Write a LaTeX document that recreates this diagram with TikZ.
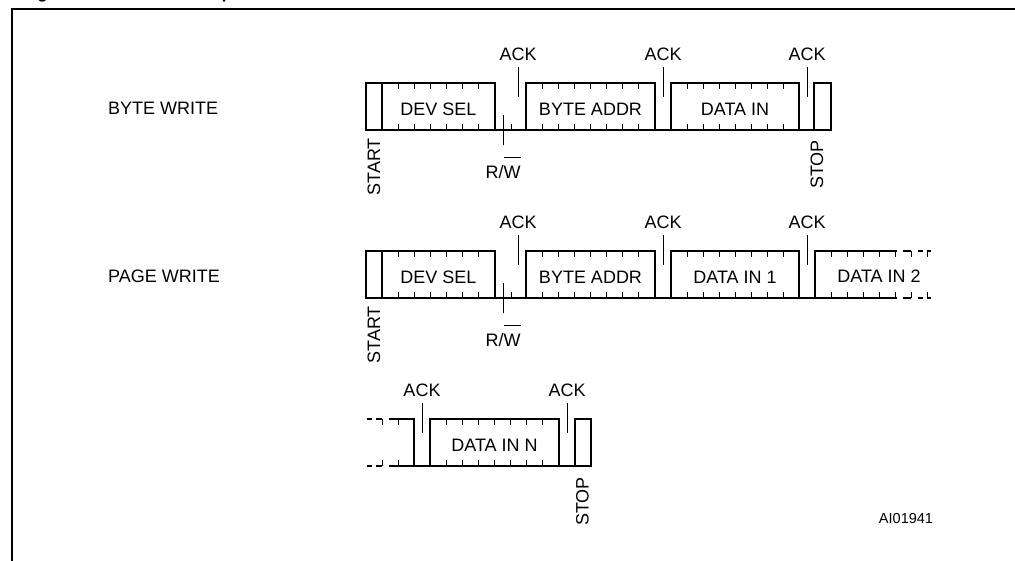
\documentclass[tikz,border=0pt]{standalone}
\usepackage{fontspec}
\setmainfont{Liberation Sans}

\newcommand{\sigfont}{\fontsize{18}{21}\selectfont}
\newcommand{\wbar}{\smash{\rlap{\rule[20.5pt]{17pt}{1pt}}}}
% bit boundaries inside a field
\newcommand{\bitmarks}[2]{%
  \foreach \k in {1,...,#2}{%
    \draw[bittick] ([xshift=\k*16.1pt]#1.north west) -- ++(0,6);
    \draw[bittick] ([xshift=\k*16.1pt]#1.south west) -- ++(0,-6);
  }}

\begin{document}
\begin{tikzpicture}[x=1pt, y=-1pt,
  every node/.style={font=\sigfont, inner sep=0pt},
  field/.style={draw, line width=1.3pt, outer sep=0pt, minimum height=47pt,
                text height=17pt, text depth=0pt, anchor=north west},
  wire/.style={line width=1.3pt},
  bittick/.style={line width=1pt},
  flag/.style={line width=1pt},
  ack/.style={anchor=base},
  vlabel/.style={rotate=90, anchor=east},
]
  \useasboundingbox (0,0) rectangle (1015,560);
  \clip (0,0) rectangle (1015,560);
  \fill[white] (0,0) rectangle (1015,560);

  \node[anchor=base west, font=\bfseries\fontsize{17}{20}\selectfont] (title)
    at (22,-1.5) {Figure 7. Write Mode Sequences in a Non Write-Protected Area};
  \draw[line width=2pt] (1040,9) -- (12,9) -- (12,580);

  % byte write
  \begin{scope}[shift={(0,83)}]
    \node[anchor=west] (bytewr) at (108,25.5) {BYTE WRITE};
    \node[field, minimum width=16pt]  (sta1) at (366,0) {};
    \node[field, minimum width=113pt] (dev1) at (382,0) {DEV SEL};
    \node[field, minimum width=129pt] (adr1) at (526,0) {BYTE ADDR};
    \node[field, minimum width=128pt] (dat1) at (671,0) {DATA IN};
    \node[field, minimum width=17pt]  (sto1) at (814,0) {};
    \draw[wire] (sta1.south west) -- (sto1.south east);
    \bitmarks{dev1}{6}
    \bitmarks{adr1}{7}
    \bitmarks{dat1}{7}
    \draw[bittick] ([xshift=16.1pt]dev1.south east) -- ++(0,-6);
    \node[ack] (ack1a) at (518,-23) {ACK};
    \node[ack] (ack1b) at (663,-23) {ACK};
    \node[ack] (ack1c) at (807,-23) {ACK};
    \foreach \a in {ack1a,ack1b,ack1c}
      \draw[flag] ([yshift=-7pt]\a.base) -- ++(0,30);
    \node[ack] (rw1) at (503,95) {R/\wbar W};
    \draw[flag] ([yshift=33pt]rw1.base) -- ++(0,-30);
    \node[vlabel] (stl1) at (374,55) {START};
    \node[vlabel] (spl1) at (817,57) {STOP};
  \end{scope}

  % page write
  \begin{scope}[shift={(0,251)}]
    \node[anchor=west] (pagewr) at (108,25.5) {PAGE WRITE};
    \node[field, minimum width=16pt]  (sta2) at (366,0) {};
    \node[field, minimum width=113pt] (dev2) at (382,0) {DEV SEL};
    \node[field, minimum width=129pt] (adr2) at (526,0) {BYTE ADDR};
    \node[field, minimum width=128pt] (dat2) at (671,0) {DATA IN 1};
    \node (dat2b) at (879,25.5) {DATA IN 2};
    \coordinate (cut2) at (815,47);
    \draw[wire] (sta2.south west) -- (cut2);
    \draw[wire] (897,0) -- (815,0) -- (cut2) -- (897,47);
    \draw[wire] (903,0) -- (911,0) (918,0) -- (923,0) (927,0) -- (931,0)
                (903,47) -- (911,47) (918,47) -- (923,47) (927,47) -- (931,47);
    \bitmarks{dev2}{6}
    \bitmarks{adr2}{7}
    \bitmarks{dat2}{7}
    \foreach \x in {831,847,863,879,895,911,927}{
      \draw[bittick] (\x,0) -- ++(0,6);
      \draw[bittick] (\x,47) -- ++(0,-6);
    }
    \draw[bittick] ([xshift=16.1pt]dev2.south east) -- ++(0,-6);
    \node[ack] (ack2a) at (518,-23) {ACK};
    \node[ack] (ack2b) at (663,-23) {ACK};
    \node[ack] (ack2c) at (807,-23) {ACK};
    \foreach \a in {ack2a,ack2b,ack2c}
      \draw[flag] ([yshift=-7pt]\a.base) -- ++(0,30);
    \node[ack] (rw2) at (503,95) {R/\wbar W};
    \draw[flag] ([yshift=33pt]rw2.base) -- ++(0,-30);
    \node[vlabel] (stl2) at (374,55) {START};
  \end{scope}

  % last data bytes
  \begin{scope}[shift={(0,419)}]
    \coordinate (cont3) at (414,47);
    \draw[wire] (389,0) -- (414,0) -- (cont3) -- (389,47);
    \draw[wire] (382,0) -- (376,0) (372,0) -- (367,0)
                (382,47) -- (376,47) (372,47) -- (367,47);
    \foreach \x in {382,398}{
      \draw[bittick] (\x,0) -- ++(0,6);
      \draw[bittick] (\x,47) -- ++(0,-6);
    }
    \node[field, minimum width=129pt] (datn) at (430,0) {DATA IN N};
    \node[field, minimum width=16pt]  (sto3) at (575,0) {};
    \draw[wire] (cont3) -- (sto3.south east);
    \bitmarks{datn}{7}
    \node[ack] (ack3a) at (422,-23) {ACK};
    \node[ack] (ack3b) at (567,-23) {ACK};
    \foreach \a in {ack3a,ack3b}
      \draw[flag] ([yshift=-7pt]\a.base) -- ++(0,30);
    \node[vlabel] (spl3) at (582.5,58) {STOP};
  \end{scope}

  \node[font=\fontsize{14.5}{17}\selectfont] (figid) at (906,518.5) {AI01941};
\end{tikzpicture}
\end{document}
